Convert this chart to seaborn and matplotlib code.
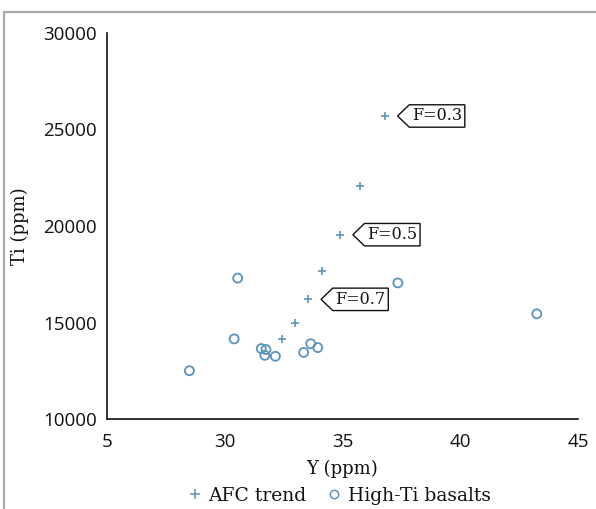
import matplotlib
matplotlib.use("Agg")
import matplotlib.pyplot as plt
from matplotlib.lines import Line2D
from matplotlib.path import Path
import seaborn as sns
import pandas as pd

# AFC trend model points (Y ppm, Ti ppm) and melt fraction labels
afc_y = [36.8, 35.75, 34.9, 34.15, 33.55, 33.0, 32.45]
afc_ti = [25700, 22050, 19550, 17650, 16200, 15000, 14150]
afc_labels = ["F=0.3", None, "F=0.5", None, "F=0.7", None, None]

# High-Ti basalt samples
bas_y = [30.55, 37.35, 30.4, 31.55, 31.75, 31.7, 32.15, 33.65, 33.95, 33.35, 28.5, 43.25]
bas_ti = [17300, 17050, 14150, 13650, 13600, 13300, 13250, 13900, 13700, 13450, 12500, 15450]

x_ticks = [25, 30, 35, 40, 45]
x_tick_labels = ["5", "30", "35", "40", "45"]
y_ticks = [10000, 15000, 20000, 25000, 30000]

COLOR = "#5b93bb"
SERIF = "DejaVu Serif"
SANS = "Open Sans"

sns.set_style("white")
plt.rcParams["font.family"] = [SANS, "DejaVu Sans"]

fig = plt.figure(figsize=(5.96, 5.09), dpi=100)
ax = fig.add_axes([107 / 596, 1 - 419 / 509, 471 / 596, 386 / 509])

afc = pd.DataFrame({"Y": afc_y, "Ti": afc_ti})
bas = pd.DataFrame({"Y": bas_y, "Ti": bas_ti})

sns.scatterplot(data=afc, x="Y", y="Ti", marker="+", color=COLOR, s=40,
                linewidth=1.2, ax=ax, legend=False)
sns.scatterplot(data=bas, x="Y", y="Ti", marker="o", s=42, linewidth=1.3,
                facecolor="none", edgecolor=COLOR, ax=ax, legend=False)


def tag_box(x0, y0, width, height, mutation_size):
    """Label box with a pointed left side."""
    pad = 0.17 * mutation_size
    x0, y0 = x0 - pad, y0 - pad
    w, h = width + 2 * pad, height + 2 * pad
    tip = 0.52 * h
    verts = [(x0, y0), (x0 + w, y0), (x0 + w, y0 + h), (x0, y0 + h),
             (x0 - tip, y0 + h / 2), (x0, y0)]
    codes = [Path.MOVETO] + [Path.LINETO] * 4 + [Path.CLOSEPOLY]
    return Path(verts, codes)


for xv, yv, lab in zip(afc_y, afc_ti, afc_labels):
    if lab:
        ax.annotate(lab, xy=(xv, yv), xytext=(19.5, 0), textcoords="offset points",
                    ha="left", va="center", fontsize=11.5, family=SERIF,
                    color="#111111",
                    bbox=dict(boxstyle=tag_box, fc="white", ec="#111111", lw=1.0))

ax.set_xlim(25, 45)
ax.set_ylim(10000, 30000)
ax.set_xticks(x_ticks)
ax.set_xticklabels(x_tick_labels)
ax.set_yticks(y_ticks)

for side in ("top", "right"):
    ax.spines[side].set_visible(False)
for side in ("left", "bottom"):
    ax.spines[side].set_color("#111111")
    ax.spines[side].set_linewidth(1.2)

ax.tick_params(axis="both", which="major", direction="out", length=4.3,
               width=1.0, color="#111111", labelsize=13.5, labelcolor="#111111")
ax.tick_params(axis="x", pad=6)
ax.tick_params(axis="y", pad=2.8)

ax.set_xlabel("Y (ppm)", family=SERIF, fontsize=13, color="#111111", labelpad=6)
ax.set_ylabel("Ti (ppm)", family=SERIF, fontsize=13, color="#111111")
ax.yaxis.set_label_coords(-0.165, 0.5)

handles = [
    Line2D([], [], marker="+", ls="none", color=COLOR, markersize=7, mew=1.1),
    Line2D([], [], marker="o", ls="none", mfc="none", mec=COLOR, markersize=6, mew=1.1),
]
fig.legend(handles, ["AFC trend", "High-Ti basalts"], loc="center",
           bbox_to_anchor=(340 / 596, 1 - 496 / 509), ncol=2, frameon=False,
           prop={"family": SERIF, "size": 13.5}, handlelength=0.6,
           handletextpad=0.4, columnspacing=1.2, labelcolor="#111111")

# thin grey frame along the top and left edges
fig.add_artist(Line2D([4 / 596, 1.0], [1 - 12 / 509, 1 - 12 / 509],
                      transform=fig.transFigure, color="#aaaaaa", lw=1.6))
fig.add_artist(Line2D([4 / 596, 4 / 596], [0.0, 1 - 12 / 509],
                      transform=fig.transFigure, color="#aaaaaa", lw=1.6))

fig.savefig("out.png", dpi=100)
